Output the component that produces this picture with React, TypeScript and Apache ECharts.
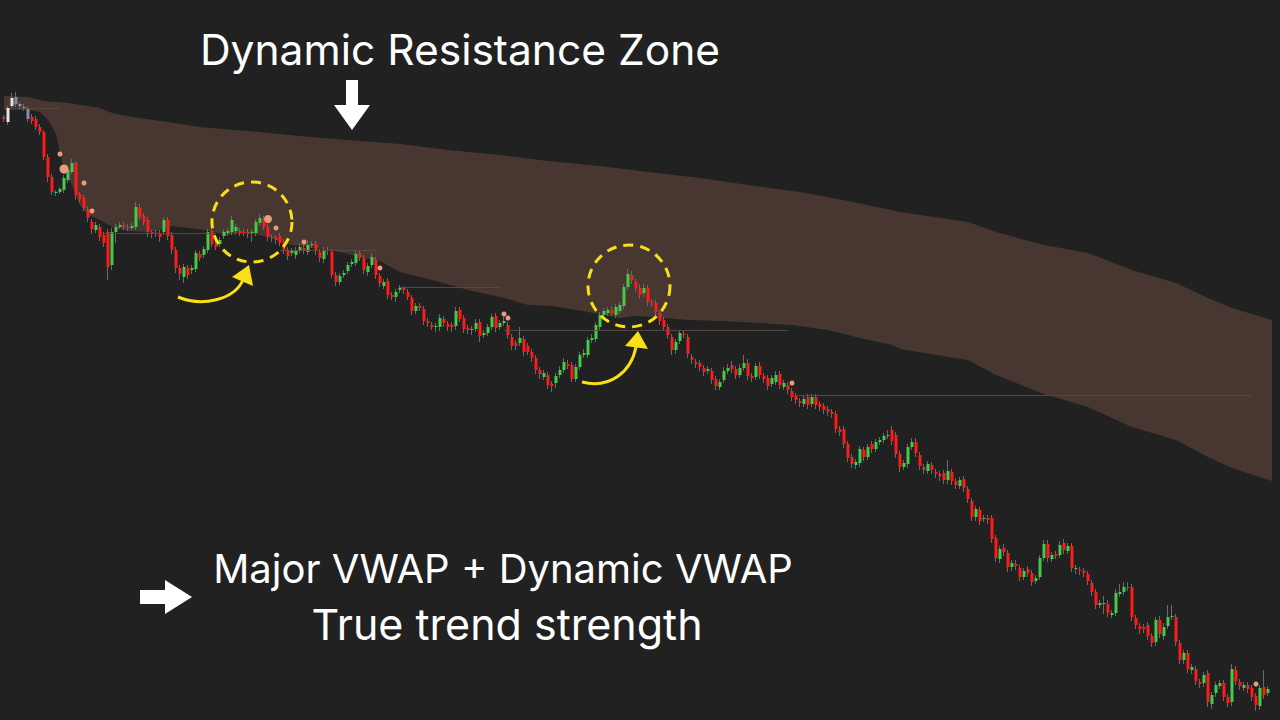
import React, { useEffect, useRef } from "react";
import * as echarts from "echarts";

// [open, close, low, high] — price units
const candles: number[][] = [
  [883,881,878,885],[878,892,875,894],[894,902,892,907],[903,896,893,908],[896,894,891,898],[891,893,889,896],[892,881,878,894],[883,879,876,886],[881,873,870,884],[873,868,865,876],
  [868,843,840,870],[843,823,818,846],[823,808,805,826],[807,808,804,810],[808,811,806,813],[810,822,807,825],[820,830,817,833],[828,837,826,841],[837,805,800,839],[806,801,797,808],
  [802,792,789,805],[791,782,778,794],[778,771,766,781],[770,775,767,778],[773,763,759,776],[765,757,753,768],[768,733,720,771],[735,768,730,772],[768,773,757,776],[773,775,771,778],
  [775,773,770,778],[773,772,769,776],[772,774,770,777],[773,793,770,798],[792,783,780,796],[784,778,775,787],[780,768,763,783],[768,766,762,770],[767,766,763,770],[767,763,758,770],
  [768,780,765,783],[780,764,760,783],[765,750,746,768],[750,732,727,753],[732,726,720,735],[723,733,717,736],[732,725,721,735],[730,732,726,735],[731,747,728,750],[746,742,739,749],
  [745,751,742,754],[750,768,747,771],[769,756,753,772],[756,753,750,759],[756,760,753,763],[764,768,761,771],[767,769,764,772],[768,780,765,784],[769,773,766,776],[769,767,764,772],
  [768,767,764,771],[768,766,762,771],[767,768,758,771],[767,778,764,781],[777,782,774,786],[781,773,770,784],[773,763,759,776],[763,762,758,766],[762,760,756,765],[764,757,754,767],
  [758,750,746,761],[750,744,740,753],[747,749,744,752],[745,750,741,753],[750,753,747,757],[752,750,746,755],[748,755,745,760],[755,756,752,759],[756,749,745,759],[748,742,738,751],
  [741,750,737,753],[750,749,745,753],[748,725,722,751],[725,718,714,728],[718,724,715,727],[725,727,722,730],[729,735,726,738],[736,738,733,741],[737,746,734,750],[747,742,739,750],
  [742,730,726,745],[728,734,724,737],[735,743,732,747],[740,725,721,743],[724,717,713,727],[714,718,711,721],[719,705,701,722],[705,703,700,708],[703,708,698,711],[710,712,707,715],
  [712,710,706,714],[708,703,700,711],[702,689,685,705],[689,694,686,697],[694,692,689,697],[691,679,675,694],[679,677,673,682],[675,673,670,678],[673,674,668,677],[673,682,669,686],
  [681,677,673,684],[676,673,669,679],[675,673,668,678],[674,689,670,693],[690,681,678,693],[682,671,667,685],[672,670,666,675],[670,671,665,674],[671,677,668,681],[678,664,658,681],
  [665,667,662,670],[667,673,664,676],[673,683,670,686],[684,672,668,687],[673,677,670,680],[677,679,674,683],[675,665,661,678],[663,654,650,666],[657,654,650,660],[657,662,654,673],
  [661,648,644,664],[654,648,645,657],[648,642,638,651],[642,630,626,645],[630,626,621,633],[623,627,620,630],[625,615,611,628],[616,614,608,619],[617,624,612,627],[625,630,622,634],
  [630,638,627,642],[636,634,631,640],[635,621,618,638],[621,633,618,636],[633,645,630,648],[645,647,642,651],[645,660,642,663],[660,662,657,666],[661,675,658,678],[673,685,670,688],
  [685,689,682,692],[687,690,684,693],[690,687,684,694],[685,693,682,696],[689,695,686,698],[694,713,691,716],[713,726,710,731],[725,720,716,729],[718,712,708,721],[712,705,701,716],
  [707,712,703,716],[712,698,694,715],[698,697,693,701],[697,688,684,700],[687,679,675,690],[680,673,669,683],[673,665,661,676],[663,650,645,666],[650,658,646,661],[659,667,656,670],
  [666,665,662,669],[663,646,642,666],[643,640,636,646],[638,636,632,641],[637,633,629,640],[632,628,624,635],[629,631,626,634],[629,620,616,632],[621,614,610,624],[613,618,610,621],
  [620,629,617,633],[629,632,626,636],[635,631,627,639],[631,625,621,634],[625,632,622,636],[632,637,629,645],[637,624,620,641],[624,622,618,627],[623,634,620,637],[634,625,621,638],
  [624,621,617,627],[622,614,610,625],[616,622,613,625],[618,625,615,629],[626,615,611,629],[613,617,610,620],[615,610,606,618],[609,603,599,612],[604,600,596,607],[599,597,593,602],
  [596,601,593,604],[603,595,591,606],[596,603,593,606],[603,595,591,606],[596,593,589,599],[594,590,586,597],[591,588,584,594],[588,586,582,591],[586,571,567,589],[571,568,564,574],
  [571,556,552,574],[556,542,538,559],[543,536,532,546],[535,538,531,541],[537,551,533,554],[550,543,539,553],[543,553,540,556],[556,551,547,559],[551,558,548,561],[558,560,555,563],
  [560,564,557,567],[564,565,561,570],[570,559,555,574],[565,546,542,568],[546,533,528,549],[533,537,530,540],[536,553,532,556],[553,558,550,562],[558,547,543,562],[545,534,530,548],
  [533,530,526,536],[529,536,526,539],[535,530,526,538],[528,526,522,531],[526,524,519,529],[527,520,516,530],[520,529,516,540],[528,519,515,531],[519,515,511,522],[514,520,511,523],
  [521,512,508,524],[511,501,497,514],[499,483,479,502],[483,491,479,494],[490,479,475,493],[481,482,478,485],[482,480,476,485],[482,461,457,485],[462,442,438,465],[441,451,437,454],
  [452,448,444,456],[447,433,428,450],[433,437,429,440],[436,434,430,440],[432,423,419,435],[423,429,420,432],[431,427,423,434],[427,418,414,430],[419,422,416,425],[423,442,420,445],
  [442,456,439,460],[456,442,438,460],[441,445,438,448],[446,444,441,449],[445,455,442,459],[457,450,446,461],[449,454,446,457],[454,432,428,457],[431,432,426,435],[430,429,425,433],
  [429,427,423,432],[426,419,415,429],[417,408,404,420],[408,395,391,411],[395,397,392,400],[396,397,386,404],[396,387,383,400],[385,387,382,390],[387,407,384,411],[406,408,403,416],
  [408,413,405,418],[413,412,409,418],[413,383,379,416],[382,375,371,385],[374,371,366,377],[373,371,367,376],[375,364,360,378],[364,357,353,367],[358,380,354,383],[380,366,362,384],
  [364,373,360,377],[374,383,371,395],[383,384,380,395],[383,358,354,386],[357,340,336,360],[340,347,336,350],[347,331,327,350],[330,333,326,336],[331,319,315,334],[318,316,312,321],
  [317,325,313,328],[327,298,293,330],[296,305,291,308],[307,315,303,318],[314,317,311,320],[317,303,299,320],[303,297,293,306],[298,331,294,336],[330,319,315,334],[318,314,310,321],
  [312,315,309,318],[315,311,307,318],[312,303,299,315],[304,295,289,307],[294,312,290,315],[313,305,301,330],[307,311,304,314],
];

// candles drawn in neutral colours at the start
const neutralIndex = [1, 2, 3, 4, 6];
const neutralColor = ["#e4e4e4", "#e4e4e4", "#7f8fa8", "#9a9a9a", "#7f8fa8"];

// resistance zone edges: [candle index, price]
const zoneUpper: number[][] = [
  [0,904],[6,903],[10,899],[16,897],[24,892],[27,887],[32,883],[41,878],[49,873],[61,869],[74,864],[86,860],[99,856],[111,850],[124,845],[136,839],[149,834],[161,828],[174,822],[186,815],[199,808],[211,799],[224,788],[241,778],[248,768],[260,755],[271,747],[282,730],[293,717],[301,702],[307,692],[317,680],
];
const zoneLower: number[][] = [
  [0,890],[6,890],[9,888],[11,880],[13,866],[14,848],[15,830],[17,815],[19,795],[21,785],[24,780],[27,773],[31,769],[36,768],[39,770],[42,774],[44,773],[50,770],[56,765],[61,767],[66,763],[72,755],[78,752],[84,748],[89,743],[94,739],[99,728],[107,720],[116,710],[124,703],[131,695],[137,694],[146,688],[154,682],[158,684],[162,683],[171,680],[179,679],[189,677],[197,675],[206,670],[214,662],[222,655],[224,651],[241,640],[248,625],[260,606],[271,593],[282,573],[293,560],[301,543],[307,532],[317,519],
];

// major VWAP levels
const levelStart = [4, 24, 69, 99, 125, 198];
const levelEnd = [14, 53, 93, 124, 196, 312];
const levelPrice = [892, 767, 750, 713, 670, 605];

// signal dots: [candle index, price, radius]
const dots: number[][] = [
  [14, 846, 2.5],[14.5, 831, 4.5],[19.5, 817, 2.5],[21.5, 789, 2.5],[65.5, 781, 4],[67.5, 772, 2.5],[75, 758, 2.5],[93.5, 732, 2.5],[125, 686, 2.5],[126, 682, 2.5],[197, 617, 2.5],[313, 316, 2.5],
];

const categoryCount = 319;
const categories = Array.from({ length: categoryCount }, (_, i) => "C" + i);

const titleText = "Dynamic Resistance Zone";
const line1Text = "Major VWAP + Dynamic VWAP";
const line2Text = "True trend strength";

const BG = "#212121";
const ZONE = "#483731";
const UP = "#45c94a";
const DOWN = "#fb1c1c";
const WICK = "#6a6a6a";
const YELLOW = "#f9df16";

export default function App() {
  const ref = useRef<HTMLDivElement>(null);
  useEffect(() => {
    if (!ref.current) return;
    const chart = echarts.init(ref.current, null, { renderer: "svg" });
    const bodyData = candles.map((c, i) => {
      const k = neutralIndex.indexOf(i);
      if (k >= 0) {
        return { value: c, itemStyle: { color: neutralColor[k], color0: neutralColor[k] } };
      }
      return c;
    });
    const textStyle = (text: string, size: number) => ({
      text,
      fill: "#ffffff",
      font: `400 ${size}px Inter`,
      align: "center",
      verticalAlign: "middle",
    });
    chart.setOption({
      animation: false,
      backgroundColor: BG,
      grid: { left: 2, right: 2, top: 0, bottom: 0 },
      xAxis: { type: "category", data: categories, boundaryGap: true, show: false },
      yAxis: { type: "value", min: 280, max: 1000, show: false },
      series: [
        {
          type: "line",
          data: zoneUpper,
          symbol: "none",
          lineStyle: { width: 0 },
          areaStyle: { color: ZONE, opacity: 1, origin: "start" },
          z: 1,
          silent: true,
        },
        {
          type: "line",
          data: zoneLower,
          symbol: "none",
          lineStyle: { width: 0 },
          areaStyle: { color: BG, opacity: 1, origin: "start" },
          z: 2,
          silent: true,
        },
        {
          type: "candlestick",
          data: candles,
          barWidth: 1,
          itemStyle: { color: WICK, color0: WICK, borderColor: WICK, borderColor0: WICK, borderWidth: 1 },
          z: 3,
          silent: true,
          markLine: {
            silent: true,
            symbol: "none",
            label: { show: false },
            lineStyle: { color: "#5b4a44", width: 1, type: "solid", opacity: 0.9 },
            data: levelPrice.map((p, i) => [
              { coord: [levelStart[i], p] },
              { coord: [levelEnd[i], p] },
            ]),
          },
        },
        {
          type: "candlestick",
          data: bodyData,
          barWidth: 3,
          itemStyle: {
            color: UP,
            color0: DOWN,
            borderColor: "transparent",
            borderColor0: "transparent",
            borderWidth: 0,
          },
          z: 4,
          silent: true,
        },
        {
          type: "scatter",
          data: dots,
          symbolSize: (v: number[]) => v[2] * 2,
          itemStyle: { color: "#ee9a7f", opacity: 1 },
          z: 5,
          silent: true,
        },
      ],
      graphic: [
        { type: "text", x: 460, y: 49, style: textStyle(titleText, 42.5), z: 10 },
        { type: "text", x: 503, y: 568, style: textStyle(line1Text, 40), z: 10 },
        { type: "text", x: 507, y: 624, style: textStyle(line2Text, 43), z: 10 },
        // white down arrow
        { type: "rect", shape: { x: 346, y: 80, width: 12, height: 26 }, style: { fill: "#ffffff" }, z: 10 },
        { type: "polygon", shape: { points: [[334, 105], [370, 105], [352, 130]] }, style: { fill: "#ffffff" }, z: 10 },
        // white right arrow
        { type: "rect", shape: { x: 140, y: 590, width: 26, height: 14 }, style: { fill: "#ffffff" }, z: 10 },
        { type: "polygon", shape: { points: [[165, 580], [165, 614], [192, 597]] }, style: { fill: "#ffffff" }, z: 10 },
        // yellow dashed circles
        { type: "circle", shape: { cx: 252, cy: 222, r: 40 }, style: { fill: "none", stroke: YELLOW, lineWidth: 3, lineDash: [10, 7] }, z: 10 },
        { type: "circle", shape: { cx: 629, cy: 286, r: 41 }, style: { fill: "none", stroke: YELLOW, lineWidth: 3, lineDash: [10, 7] }, z: 10 },
        // yellow curved arrows
        { type: "bezierCurve", shape: { x1: 178, y1: 297, cpx1: 202, cpy1: 307, cpx2: 234, cpy2: 300, x2: 243, y2: 280 }, style: { stroke: YELLOW, lineWidth: 3, fill: "none" }, z: 10 },
        { type: "polygon", shape: { points: [[249, 265], [232, 277], [253, 286]] }, style: { fill: YELLOW }, z: 10 },
        { type: "bezierCurve", shape: { x1: 582, y1: 382, cpx1: 610, cpy1: 389, cpx2: 631, cpy2: 372, x2: 636, y2: 347 }, style: { stroke: YELLOW, lineWidth: 3, fill: "none" }, z: 10 },
        { type: "polygon", shape: { points: [[638, 331], [625, 346], [648, 349]] }, style: { fill: YELLOW }, z: 10 },
      ],
    });
    return () => chart.dispose();
  }, []);
  return (
    <div
      ref={ref}
      style={{ position: "absolute", left: 0, top: 0, width: 1280, height: 720, background: BG }}
    />
  );
}
